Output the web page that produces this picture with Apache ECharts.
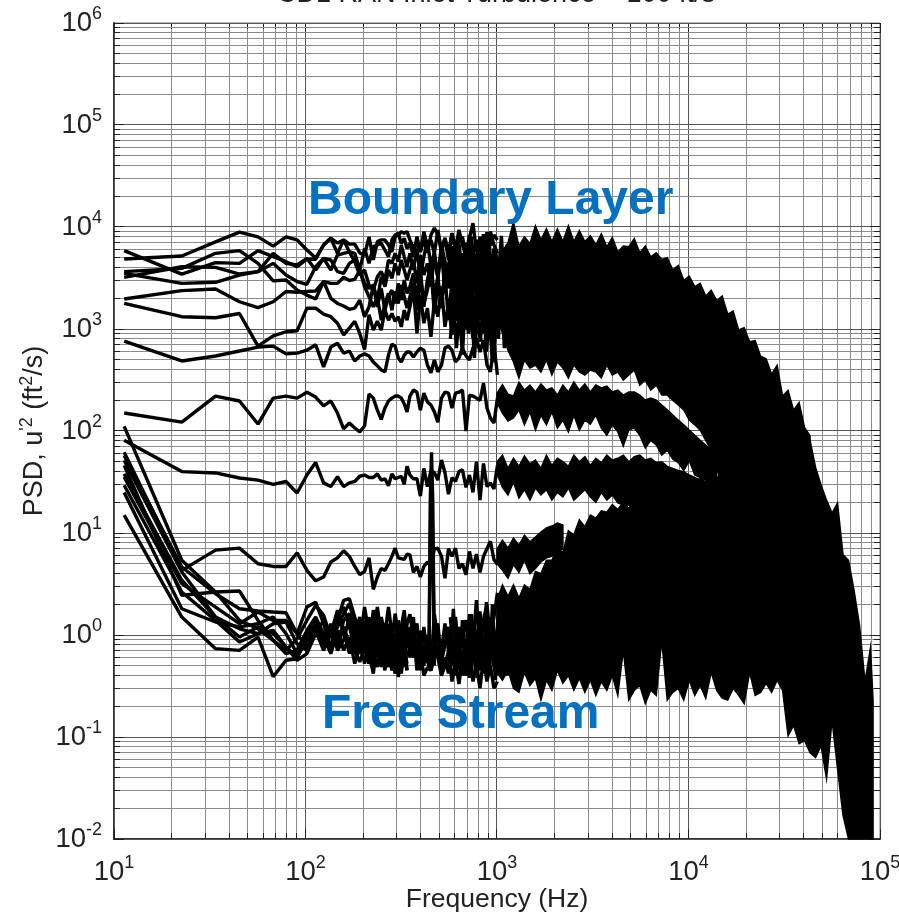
<!DOCTYPE html>
<html>
<head>
<meta charset="utf-8">
<style>html,body{margin:0;padding:0;background:#fff}#container{width:899px;height:917px}</style>
<script src="https://cdn.jsdelivr.net/npm/echarts@6/dist/echarts.min.js"></script>
</head>
<body>
<div id="container"></div>
<script>
// frequency bins of the low end, then the zigzag part up to 1 kHz
const binHz = [11.3,22.6,33.9,45.2,56.5,67.8,79.1,90.4,101.7,113,124.3,135.6,146.9,158.2,169.5,180.8,192.1,203.4,214.7,226,237.3,248.6,259.9,271.2,282.5,293.8,305.1,316.4,327.7,339];
const midHz = [351,366,382,398,415,433,452,471,491,513,535,558,582,607,633,660,689,718,749,781,815,850,886,924,964,1005];
// where the traces get so close they read as one mass
const fineHz = [571,592,614,636,660,684,709,735,762,790,819,849,880,913,946,981,1017,1054,1093,1133,1175,1218,1263,1309,1357];
// frequencies of the dense part, where each trace is read as a hi/lo envelope
const bandHz = [1000,1068,1141,1219,1302,1391,1486,1587,1696,1811,1935,2067,2208,2359,2520,2692,2876,3072,3282,3506,3745,4001,4274,4566,4878,5211,5567,5947,6353,6787,7250,7745,8274,8839,9443,10090,10780,11510,12300,13140,14030,14990,16020,17110,18280,19530,20860,22280,23800,25430,27170,29020,31000,33120,35380,37800,40380,43130,46080,49230,52590,56180,60010,64110,68490,73160,78160,83500,89200,92000];

// boundary layer traces
const top1 = [4860,5200,7140,8900,8000,6500,8000,7470,5950,4970,6650,7800,6970,7470,6800,6800,5570,5300,8000,4750,7200,7470,7470,6650,5700,8100,8300,9000,8700,9000,
  7470,6200,7140,5700,7470,5570,8350,9800,8350,5700,7800,5570,8700,5950,7470,8000,5100,7800,10900,5700,8000,5570,8900,6650,8350,7470];
const top2 = [5860,3450,4470,4400,5860,5120,4570,4080,4830,4830,6660,7750,5520,7460,5700,5520,3790,6150,4400,6420,6660,6900,5950,5120,7460,8350,8680,6900,7750,6150,
  6900,5120,8050,5700,9000,6420,7460,5520,9350,5950,7750,4750,8680,6150,9350,6660,5120,8350,5700,7460,4920,8050,5950,9000,6660,5520];
const top3 = [3650,3930,5520,5860,4400,2960,3020,2410,2150,1970,2920,2000,1780,1680,1560,1600,1920,1320,1650,2700,1650,2500,1530,2070,2410,1780,2800,1920,3020,2240,
  2600,3510,1920,3790,1650,3020,4400,2070,3260,1600,3930,2500,4750,1780,3510,2070,4080,1480,2800,5120,1920,3260,1420,4400,2410,3790];
const top4 = [3210,4080,4020,3460,3650,5520,4400,4240,4920,3790,4920,3790,5310,5520,5700,4570,3380,3790,2700,2410,3260,3650,3020,4750,4400,5520,4570,6660,5120,4080,
  5520,3790,6150,3260,5120,7460,4080,5700,3260,6660,4570,3020,5520,3790,6900,3380,4920,2800,5950,4080,7460,3650,5120,3140,6150,4400];
const top5 = [3510,2800,2870,3380,3650,4400,3380,2920,2740,4080,4920,4750,3650,3510,4400,4750,3790,2800,2500,2700,1920,3260,2600,3790,3140,4400,3380,4750,3790,3020,
  3790,4750,2800,5310,3380,4400,2600,5120,3140,5950,2240,4240,6420,2800,4570,5520,2500,4080,6150,3260,4750,2410,5520,3510,4400,2800];
const top6 = [1970,2380,2470,1850,1620,1850,2330,2290,2340,2360,2920,2800,2800,3210,2990,3070,3790,2600,2070,1650,2070,1220,1780,2240,1530,2330,1780,2700,2070,1600,
  2070,2800,1530,3260,1780,2410,3790,1420,2700,1920,3380,1220,3020,2150,4400,1530,2600,3510,1270,2330,3930,1650,2920,1140,3140,2000];
const top7 = [1780,1320,1290,1420,680,855,940,960,1600,1600,1400,1320,1140,875,1020,1190,905,630,1380,975,1190,975,1530,1220,1420,1190,1320,1050,1530,1220,
  1650,2500,905,2150,1140,1600,840,1920,1320,2600,1050,1780,875,2700,1220,723,2070,1420,810,2330,1220,2800,905,1600,645,1920];
const dense1 = [3200,6500,2600,5500,2100,7000,3000,8000,2500,6000,3500,8500,2800,7000,2300,6200,3300,8200,2700,6800,3200,7600,3000,6400,4000];
const dense2 = [1500,3600,1200,3000,1000,4200,1700,3300,900,2800,1300,3700,1000,2400,800,2800,1400,4100,1100,3200,1500,3900,1300,3000,1800];
const dense3 = [800,1900,650,1500,560,2100,900,1700,520,1400,750,2000,600,1300,470,1500,800,2300,650,1700,900,2200,750,1700,1000];
const dense4 = [5000,2000,7500,1500,4500,1000,6000,1600,4800,1100,5500,900,6800,1200,5400,800,4800,1000,6200,1400,5000,1100,5800,1300,3500];

// the separate traces between the two groups
const iso1 = [760,486,544,609,665,680,570,580,620,700,425,665,725,580,609,486,544,570,544,475,435,397,380,555,710,680,520,475,555,595,
  595,532,595,650,620,445,372,497,380,445,650,680,620,475,520,650,544,497,650,815,595,780,445,380,700,355];
const iso2 = [150,122,220,197,117,210,220,210,240,215,176,197,150,105,120,107,98,112,230,210,160,130,168,197,210,220,220,210,185,154,
  220,252,240,160,235,193,180,154,122,210,240,235,168,235,240,252,100,225,220,210,200,295,168,134,120,210];
const iso3 = [81,40,38.8,34.6,33,30,32,24.7,37,49,31,28.5,35.6,28.5,31,32,36,37,35,35,38,33,34,29,38,34,35,36,30,45,
  37,34,34,23,43,28.5,41,39,33,52,39,24,35,32,40,41.7,28,37,25,50,21,48,28.5,31,27,46];
const iso4 = [62,4.3,6.8,7.1,5,4.7,4.7,6.4,4.3,3.4,3.7,5.2,5.7,6.7,5.9,4.7,3.9,4.2,5.7,2.8,3.7,4.5,4.3,5,5.9,7.1,5.7,5.6,5.5,6.2,
  6.1,4.1,4.7,3.7,4.7,5.2,4.8,7,7.1,5.9,3.6,7,5.9,7.1,4.5,5,3.9,6.6,4.5,6.2,4.1,5.9,7,8.3,5.5,4.9];

// free stream traces
const free1 = [111,5.4,2.64,1.39,1.15,.886,.707,.92,1.39,1.95,1.56,.955,1.39,2.19,2.27,1.5,1.03,1.2,.656,1.11,1.88,.955,1.29,.822,1.2,.763,1.39,.955,.707,1.29,
  1.6,.9,1.3,.55,1.2,.6,.5,1.6,.9,.7,1.3,.7,1,1.5,.7,1.2,.6,1.6,.8,2.2,.7,1.4,2,.9,1.5,2.6];
const free2 = [57.6,4.64,2.54,1.81,1.72,1.68,1.65,1.03,1.88,2.1,1.29,.763,1.2,1.62,2.03,1.29,.955,1.39,.763,1.75,1.29,.656,1.03,1.88,1.03,1.39,.656,1.2,1.75,.886,
  .8,1.5,.6,1.1,.5,1,.45,.9,1.3,.55,.8,1.2,.5,.9,.6,1,1.4,.5,1.2,.7,1.7,.6,1,1.5,.55,1.1];
const free3 = [51.6,4.15,1.5,1.15,1.03,1.29,1.34,.822,.707,1.39,.886,1.2,.763,1.39,1.62,1.11,.822,1.88,1.03,.707,1.5,.955,.565,1.29,.886,1.62,1.03,.61,1.39,.763,
  1.2,.6,.9,.45,.8,.55,.45,.6,.8,.45,.6,.42,.7,.4,.8,.5,.9,.38,.7,1.1,.45,.8,.4,.9,.5,.4];
const free4 = [46,2.45,2.64,2.7,1.39,.886,.656,.707,1.11,1.5,1.03,.707,1.5,1.88,1.2,.763,1.39,.955,.565,1.29,.763,1.5,1.03,.656,1.2,.524,1.29,.822,.565,1.11,
  .6,1.1,.45,.7,.4,.48,.45,1.1,.6,.4,.5,.7,.35,.55,.33,.6,.4,.7,.35,.5,.3,.6,.35,.5,.3,.35];
const free5 = [38,3.44,1.5,.955,1.2,1.03,.763,.61,.886,1.2,.763,1.03,1.75,1.03,.763,1.29,.656,.886,1.5,.524,1.03,.656,1.29,.763,.565,.955,1.2,.486,.886,1.39];
const free6 = [35.5,3.19,1.88,1.29,1.68,1.39,1.39,1.03,.763,1.03,1.39,.707,.955,1.2,.656,1.03,1.5,.763,.524,.955,.656,1.2,.656,.486,1.03,.707,.524,1.11,.656,.45];
const free7 = [29.4,2.64,1.39,.854,1.03,1.11,.763,.565,.656,1.03,.822,1.29,.707,.886,1.5,.656,.955,.524,.763,1.2,.61,.763,.45,.886,.656,.418,.763,1.03,.486,.707];
const free8 = [25,1.81,1.34,1.2,1.29,1.5,1.03,.656,1.03,1.29,.955,.656,1.11,.707,.955,.524,.763,1.2,.656,.418,.886,.486,.707,1.2,.565,.763,.388,.656,.955,.45];
const free9 = [15,1.5,.735,.707,.955,.39,.565,.585,1.03,1.11,.707,1.03,.763,1.2,.822,.707,.545,.763,.524,.656,.486,.822,.565,.707,.45,.565,.656,.418,.707,.524];
const dense5 = [1.5,.6,1.1,.45,1.4,.5,1,.4,1.3,.55,1.6,.5,.9,.4,2,.6,1.5,.5,2.5,.7,1.2,.5,2,.8,1.5];
const dense6 = [.7,1.8,.5,1.2,.4,.9,.45,1.6,.6,.38,1.1,.42,2.1,.5,1,.36,1.5,.6,.9,.4,1.8,.5,1.2,.6,.9];

// the tone near 455 Hz
const toneHz = [441,448,455,462,471];
const tone1 = [.45,20,62,20,.5];
const tone2 = [.5,8,40,8,.6];

// dense part, upper and lower edge of each black band
const band1Hi = [4200,5800,7000,11200,6500,8000,6900,10300,7500,9600,7200,9600,7200,10300,7200,9200,7200,8200,6700,8600,6400,7900,5700,6500,6400,7700,5600,6500,5100,5600,4800,5000,3800,4200,3000,3300,2600,2800,2100,2400,1900,2100,1400,1500,980,1030,750,770,540,510,360,440,220,250,160,190,108,90];
const band1Lo = [1500,900,620,475,331,496,415,443,379,496,354,475,415,331,443,379,354,396,379,331,443,354,379,316,354,396,282,316,252,282,225,225,201,180,161,128,115,102,81,65,41,33,30,28,26,25,24,24,23,23,22,22,21,21,20,20,20,20];
const band2Hi = [235,285,230,220,302,252,282,241,289,252,264,225,282,241,302,252,289,241,282,264,276,241,252,225,241,241,225,201,210,201,180,161,143,128,115,102,91,81,73,65,58];
const band2Lo = [190,150,125,134,161,115,154,102,143,115,154,107,128,98,143,102,128,117,143,107,91,115,98,71,102,107,91,68,81,73,58,65,53,49,41,51,37,35,33,27,24];
const band3Hi = [50,58,43,54,45,57,47.5,52,43,58,46,54,50,45,58,50,56,46,54,49,58,52,54,58,50,56,58,52,54,49,50,45,43,41,40,37,35,33,32];
const band3Lo = [38,28,23.6,31.6,22,26.6,21,27.6,23.6,26.6,21,25,22.6,27.6,21,23.6,26.6,22.6,20,25,21,23.6,19.7,18.8,18.8,17.6,19,18,17,18,17,16.5,17,16,16,15.5,15,15,14.5];
const band4Hi = [2.2,3.1,2.4,3.1,2.3,3.1,2.8,4.2,4,5.4,5.4,7.2,6.4,10.5,9.6,13.5,11.5,15,14,16.5,16,19,17,20,17.5,21,19,22.5,20,25,22,27,24,30,27,32,30,35,31,37,34,41.5,46.5,46.5,52,52,58,58,58,65,65,65,73,73,73,73,81,81,44,29.5,21,15.7,19.7,6.1,5.4,2.76,1.25,.35,.75,.23];
const band4Lo = [.43,.36,.45,.30,.274,.43,.32,.377,.23,.36,.287,.45,.336,.40,.287,.377,.274,.36,.256,.35,.287,.40,.256,.71,.23,.287,.32,.213,.287,.256,.89,.23,.274,.30,.23,.36,.256,.32,.24,.43,.287,.24,.23,.30,.256,.213,.43,.256,.274,.336,.274,.36,.287,.103,.13,.086,.092,.07,.063,.082,.039,.146,.049,.017,.01,.01,.01,.01,.01,.01];
const band5Hi = [7,8.5,7.1,8.9,7.6,9.5,8.2,9.1,10.2,11.2,11.7,12.5,12];
const band5Lo = [5,4.3,3.6,4.9,4.1,5.4,4,4.5,5.2,5.7,5.9,6.5,7];

// log grid
const minorX = [20,30,40,50,60,70,80,90,200,300,400,500,600,700,800,900,2000,3000,4000,5000,6000,7000,8000,9000,20000,30000,40000,50000,60000,70000,80000,90000];
const majorX = [10,100,1000,10000,100000];
const minorY = [.02,.03,.04,.05,.06,.07,.08,.09,.2,.3,.4,.5,.6,.7,.8,.9,2,3,4,5,6,7,8,9,20,30,40,50,60,70,80,90,200,300,400,500,600,700,800,900,2000,3000,4000,5000,6000,7000,8000,9000,20000,30000,40000,50000,60000,70000,80000,90000,200000,300000,400000,500000,600000,700000,800000,900000];
const majorY = [.01,.1,1,10,100,1000,10000,100000,1000000];

const xMin = 10, xMax = 100000, yMin = 0.01, yMax = 1000000;
const allHz = binHz.concat(midHz);

const dom = document.getElementById('container');
const myChart = echarts.init(dom);

function snap(v) {
  return Math.round(v - 0.5) + 0.5;
}

function tick(x1, y1, x2, y2, color) {
  return { type: 'line', shape: { x1, y1, x2, y2 }, style: { stroke: color, lineWidth: 1 } };
}

function gridSeries(values, isX, color, tickLen) {
  return {
    type: 'custom',
    silent: true,
    z: 1,
    data: values.map(v => (isX ? [v, yMin] : [xMin, v])),
    encode: { x: 0, y: 1 },
    renderItem: function (params, api) {
      const v = api.value(isX ? 0 : 1);
      const a = isX ? api.coord([v, yMin]) : api.coord([xMin, v]);
      const b = isX ? api.coord([v, yMax]) : api.coord([xMax, v]);
      const children = [];
      if (isX) {
        const x = snap(a[0]);
        children.push(tick(x, a[1], x, b[1], color));
        children.push(tick(x, a[1], x, a[1] - tickLen, '#222'));
        children.push(tick(x, b[1], x, b[1] + tickLen, '#222'));
      } else {
        const y = snap(a[1]);
        children.push(tick(a[0], y, b[0], y, color));
        children.push(tick(a[0], y, a[0] + tickLen, y, '#222'));
        children.push(tick(b[0], y, b[0] - tickLen, y, '#222'));
      }
      return { type: 'group', children };
    },
  };
}

function lineSeries(name, hz, values) {
  return {
    name,
    type: 'line',
    z: 3,
    symbol: 'none',
    silent: true,
    lineStyle: { color: '#000', width: 3.4, join: 'bevel' },
    data: values.map((v, i) => [hz[i], v]),
  };
}

function bandSeries(name, hi, lo) {
  const rows = hi.map((v, i) => [bandHz[i], v, lo[i]]);
  return {
    name,
    type: 'custom',
    z: 3,
    silent: true,
    data: rows,
    encode: { x: 0, y: [1, 2] },
    renderItem: function (params, api) {
      if (params.dataIndex !== 0) return;
      const pts = rows.map(r => api.coord([r[0], r[1]]));
      for (let i = rows.length - 1; i >= 0; i--) {
        pts.push(api.coord([rows[i][0], rows[i][2]]));
      }
      return {
        type: 'polygon',
        shape: { points: pts },
        style: { fill: '#000', stroke: '#000', lineWidth: 1.5 },
      };
    },
  };
}

const richTick = {
  b: { fontSize: 27.5, fontFamily: 'Liberation Sans', color: '#222', lineHeight: 27 },
  s: { fontSize: 18, fontFamily: 'Liberation Sans', color: '#222', lineHeight: 18, padding: [0, 0, 18, 0] },
};
function powerLabel(v) {
  return '{b|10}{s|' + Math.round(Math.log10(v)) + '}';
}

const option = {
  animation: false,
  backgroundColor: '#fff',
  title: {
    text: 'CD1 RAN Inlet Turbulence ~ 100 ft/s',
    left: 491,
    top: -24,
    textAlign: 'center',
    textStyle: { fontFamily: 'Liberation Sans', fontWeight: 'normal', fontSize: 27, color: '#222' },
  },
  grid: { left: 114, top: 23, width: 766, height: 816, show: true, borderColor: '#777', borderWidth: 1, outerBoundsMode: 'none' },
  xAxis: {
    type: 'log',
    logBase: 10,
    min: xMin,
    max: xMax,
    name: 'Frequency (Hz)',
    nameLocation: 'middle',
    nameGap: 47,
    nameMoveOverlap: false,
    nameTextStyle: { fontFamily: 'Liberation Sans', fontSize: 26.5, color: '#222' },
    axisLine: { show: true, lineStyle: { color: '#333', width: 2 } },
    axisTick: { show: false },
    splitLine: { show: false },
    axisLabel: { margin: 20, formatter: powerLabel, rich: richTick },
  },
  yAxis: {
    type: 'log',
    logBase: 10,
    min: yMin,
    max: yMax,
    name: "{t|PSD, u}{s|'2}{t| (ft}{s|2}{t|/s)}",
    nameLocation: 'middle',
    nameGap: 66,
    nameRotate: 90,
    nameMoveOverlap: false,
    nameTextStyle: {
      rich: {
        t: { fontFamily: 'Liberation Sans', fontSize: 27, color: '#222', lineHeight: 27 },
        s: { fontFamily: 'Liberation Sans', fontSize: 18, color: '#222', lineHeight: 18, padding: [0, 0, 14, 0] },
      },
    },
    axisLine: { show: true, lineStyle: { color: '#333', width: 2 } },
    axisTick: { show: false },
    splitLine: { show: false },
    axisLabel: { margin: 12, formatter: powerLabel, rich: richTick },
  },
  graphic: [
    {
      type: 'text', z: 100, left: 308, top: 177,
      style: { text: 'Boundary Layer', fill: '#0070C0', font: 'bold 48px "Liberation Sans"' },
    },
    {
      type: 'text', z: 100, left: 322, top: 691,
      style: { text: 'Free Stream', fill: '#0070C0', font: 'bold 48px "Liberation Sans"' },
    },
  ],
  series: [
    gridSeries(minorX, true, '#8a8a8a', 6),
    gridSeries(majorX, true, '#555', 10),
    gridSeries(minorY, false, '#8a8a8a', 6),
    gridSeries(majorY, false, '#555', 10),
    bandSeries('band 1', band1Hi, band1Lo),
    bandSeries('band 2', band2Hi, band2Lo),
    bandSeries('band 3', band3Hi, band3Lo),
    bandSeries('band 4', band4Hi, band4Lo),
    bandSeries('band 5', band5Hi, band5Lo),
    lineSeries('top 1', allHz, top1),
    lineSeries('top 2', allHz, top2),
    lineSeries('top 3', allHz, top3),
    lineSeries('top 4', allHz, top4),
    lineSeries('top 5', allHz, top5),
    lineSeries('top 6', allHz, top6),
    lineSeries('top 7', allHz, top7),
    lineSeries('dense 1', fineHz, dense1),
    lineSeries('dense 2', fineHz, dense2),
    lineSeries('dense 3', fineHz, dense3),
    lineSeries('dense 4', fineHz, dense4),
    lineSeries('iso 1', allHz, iso1),
    lineSeries('iso 2', allHz, iso2),
    lineSeries('iso 3', allHz, iso3),
    lineSeries('iso 4', allHz, iso4),
    lineSeries('free 1', allHz, free1),
    lineSeries('free 2', allHz, free2),
    lineSeries('free 3', allHz, free3),
    lineSeries('free 4', allHz, free4),
    lineSeries('free 5', allHz, free5),
    lineSeries('free 6', allHz, free6),
    lineSeries('free 7', allHz, free7),
    lineSeries('free 8', allHz, free8),
    lineSeries('free 9', allHz, free9),
    lineSeries('dense 5', fineHz, dense5),
    lineSeries('dense 6', fineHz, dense6),
    lineSeries('tone 1', toneHz, tone1),
    lineSeries('tone 2', toneHz, tone2),
  ],
};

myChart.setOption(option, true);
</script>
</body>
</html>
